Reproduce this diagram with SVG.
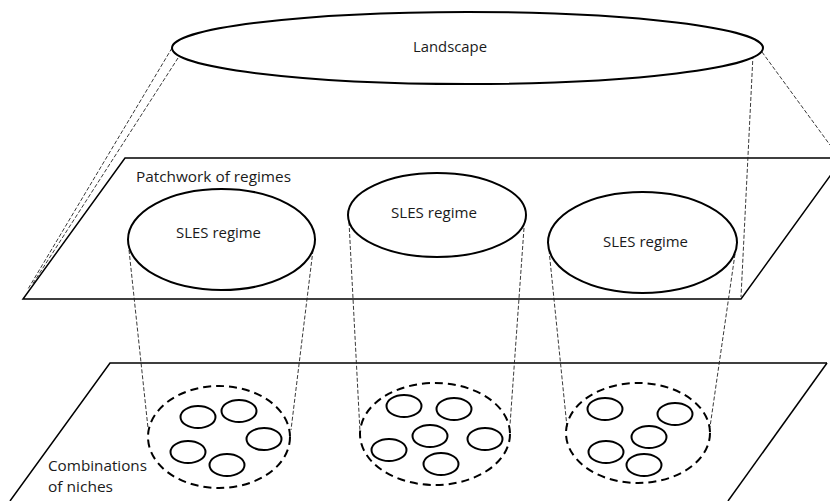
<svg xmlns="http://www.w3.org/2000/svg" width="830" height="501" viewBox="0 0 830 501">
<style>
.plane{fill:none;stroke:#000;stroke-width:1.5}
.big{fill:#fff;stroke:#000;stroke-width:2}
.niche{fill:none;stroke:#000;stroke-width:2;stroke-dasharray:8,5}
.small{fill:#fff;stroke:#000;stroke-width:2}
.proj{fill:none;stroke:#222;stroke-width:0.9;stroke-dasharray:4,2}
text{font-family:"Open Sans","Liberation Sans",Arial,sans-serif;font-size:14px;fill:#1a1a1a}
</style>
<rect width="830" height="501" fill="#fff"/>
<g id="plane-regimes">
<polyline class="plane" points="843,158 125,158 23,299 741,299 843,158"/>
<text x="136" y="182" textLength="155" lengthAdjust="spacingAndGlyphs">Patchwork of regimes</text>
</g>
<g id="plane-niches">
<polyline class="plane" points="827,363 110,363 10,501"/>
<line class="plane" x1="827" y1="363" x2="728" y2="501"/>
<text x="48" y="471" textLength="99" lengthAdjust="spacingAndGlyphs">Combinations</text>
<text x="48" y="492" textLength="65" lengthAdjust="spacingAndGlyphs">of niches</text>
</g>
<g id="connectors">
<line class="proj" x1="172" y1="48" x2="28" y2="289"/>
<line class="proj" x1="178" y1="58" x2="32" y2="285"/>
<line class="proj" x1="762" y1="52" x2="830" y2="145"/>
<line class="proj" x1="753" y1="55" x2="741" y2="297"/>
<line class="proj" x1="129" y1="250" x2="148" y2="428"/>
<line class="proj" x1="313" y1="250" x2="291" y2="430"/>
<line class="proj" x1="349" y1="222" x2="360" y2="432"/>
<line class="proj" x1="524" y1="228" x2="510" y2="425"/>
<line class="proj" x1="549" y1="250" x2="567" y2="427"/>
<line class="proj" x1="735" y1="254" x2="710" y2="427"/>
</g>
<g id="landscape">
<ellipse class="big" cx="467.5" cy="48" rx="295.5" ry="36"/>
<text x="413" y="52" textLength="74" lengthAdjust="spacingAndGlyphs">Landscape</text>
</g>
<g id="regime1">
<ellipse class="big" cx="221.5" cy="239.5" rx="93.5" ry="50.5"/>
<text x="176" y="238" textLength="85" lengthAdjust="spacingAndGlyphs">SLES regime</text>
</g>
<g id="regime2">
<ellipse class="big" cx="437" cy="215" rx="89" ry="42"/>
<text x="391" y="218" textLength="86" lengthAdjust="spacingAndGlyphs">SLES regime</text>
</g>
<g id="regime3">
<ellipse class="big" cx="642.5" cy="242.5" rx="94.5" ry="50.5"/>
<text x="603" y="247" textLength="85" lengthAdjust="spacingAndGlyphs">SLES regime</text>
</g>
<g id="niches1">
<ellipse class="niche" cx="219" cy="437" rx="71" ry="51"/>
<ellipse class="small" cx="198" cy="417" rx="17.5" ry="11"/>
<ellipse class="small" cx="239" cy="411" rx="17.5" ry="11"/>
<ellipse class="small" cx="264" cy="439" rx="17.5" ry="11"/>
<ellipse class="small" cx="188" cy="452" rx="17.5" ry="11"/>
<ellipse class="small" cx="227" cy="465" rx="17.5" ry="11"/>
</g>
<g id="niches2">
<ellipse class="niche" cx="435" cy="434" rx="75" ry="51"/>
<ellipse class="small" cx="404" cy="406" rx="17.5" ry="11"/>
<ellipse class="small" cx="454" cy="409" rx="17.5" ry="11"/>
<ellipse class="small" cx="430" cy="436" rx="17.5" ry="11"/>
<ellipse class="small" cx="485" cy="439" rx="17.5" ry="11"/>
<ellipse class="small" cx="389" cy="450" rx="17.5" ry="11"/>
<ellipse class="small" cx="441" cy="464" rx="17.5" ry="11"/>
</g>
<g id="niches3">
<ellipse class="niche" cx="638" cy="433" rx="72" ry="50"/>
<ellipse class="small" cx="605" cy="409" rx="17.5" ry="11"/>
<ellipse class="small" cx="675" cy="414" rx="17.5" ry="11"/>
<ellipse class="small" cx="649" cy="437" rx="17.5" ry="11"/>
<ellipse class="small" cx="606" cy="452" rx="17.5" ry="11"/>
<ellipse class="small" cx="644" cy="465" rx="17.5" ry="11"/>
</g>
</svg>
